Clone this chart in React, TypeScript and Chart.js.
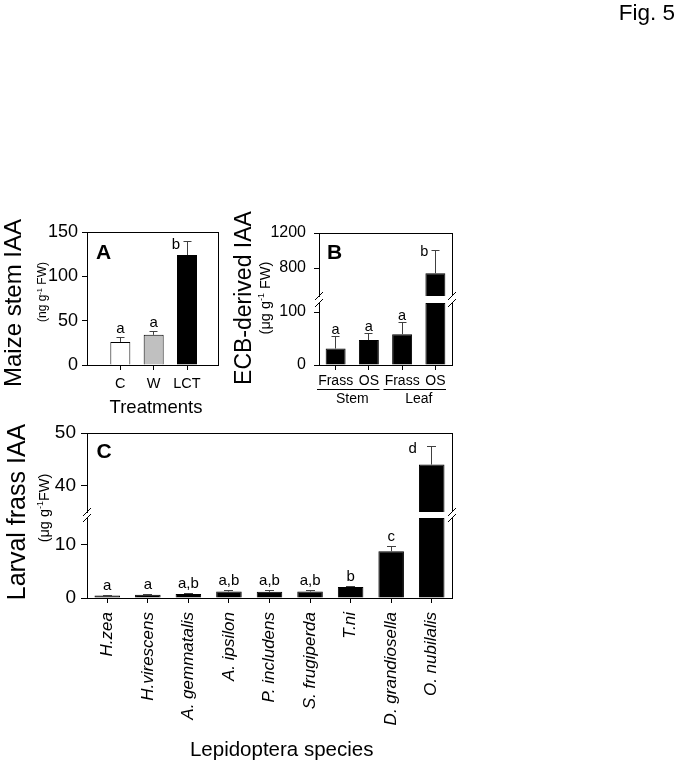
import React, { useEffect, useRef } from 'react';
import { Chart, registerables } from 'chart.js';

Chart.register(...registerables);

const FONT = "'Liberation Sans', Arial, Helvetica, sans-serif";
const W = 683;
const H = 767;
Chart.defaults.font.family = FONT;

// ---------- Panel A : maize stem IAA (ng g-1 FW)
const treatments = ['C', 'W', 'LCT'];
const stemIAA = [26, 34, 124];
const stemIAAErr = [5, 4, 15];
const stemLetters = ['a', 'a', 'b'];
const stemLetterSide = ['top', 'top', 'left'];
const stemTicks = [0, 50, 100, 150];
const stemRange = [0, 150];
const treatmentColors = ['#ffffff', '#c0c0c0', '#000000'];

// ---------- Panel B : ECB-derived IAA (ug g-1 FW), broken axis
const ecbLabels = ['Frass', 'OS', 'Frass', 'OS'];
const ecbTissues = ['Stem', 'Leaf'];
const ecbTissueSpan = [[0, 1], [2, 3]];
const ecbIAA = [31, 47, 58, 740];
const ecbIAAErr = [22, 13, 22, 262];
const ecbLetters = ['a', 'a', 'a', 'b'];
const ecbLetterSide = ['top', 'top', 'top', 'left'];
const ecbLowTicks = [0, 100];
const ecbHighTicks = [800, 1200];
const ecbLowRange = [0, 117];
const ecbHighRange = [480, 1200];

// ---------- Panel C : larval frass IAA (ug g-1 FW), broken axis
const species = [
  'H.zea',
  'H.virescens',
  'A. gemmatalis',
  'A. ipsilon',
  'P. includens',
  'S. frugiperda',
  'T.ni',
  'D. grandiosella',
  'O. nubilalis',
];
const frassIAA = [0.45, 0.62, 0.75, 1.2, 1.15, 1.2, 2.08, 8.75, 44];
const frassIAAErr = [0.1, 0.1, 0.12, 0.12, 0.3, 0.2, 0.12, 0.9, 3.5];
const frassLetters = ['a', 'a', 'a,b', 'a,b', 'a,b', 'a,b', 'b', 'c', 'd'];
const frassLetterSide = ['top', 'top', 'top', 'top', 'top', 'top', 'top', 'top', 'left'];
const frassLowTicks = [0, 10];
const frassHighTicks = [40, 50];
const frassLowRange = [0, 15];
const frassHighRange = [35, 50];

const panelA = {
  labels: treatments, values: stemIAA, errors: stemIAAErr, letters: stemLetters, sides: stemLetterSide,
  colors: treatmentColors, lowRange: stemRange, lowTicks: stemTicks,
  linearX: true, xMax: 3.93,
  area: { left: 87, top: 232, right: 218, bottom: 365 },
  yFont: 18, yPad: 4, yTickLen: 5, xFont: 14.5, xPad: 5, xRot: 0, barPct: 0.6,
  capHalf: 4, sigFont: 15, sigGap: 4.5, sigLeftDx: -7, sigLeftDy: 7.5,
  panel: 'A', panelFont: 21, panelDx: 9, panelDy: 27,
};

const panelB = {
  labels: ecbLabels, values: ecbIAA, errors: ecbIAAErr, letters: ecbLetters, sides: ecbLetterSide,
  colors: '#000000', lowRange: ecbLowRange, lowTicks: ecbLowTicks, highRange: ecbHighRange, highTicks: ecbHighTicks,
  stackPx: [63, 7, 62],
  area: { left: 319, top: 233, right: 452, bottom: 365 },
  yFont: 16, yPad: 8, yTickLen: 5, xFont: 14, xPad: 3, xRot: 0, barPct: 0.6,
  capHalf: 4, sigFont: 14.5, sigGap: 3, sigLeftDx: -7, sigLeftDy: 5,
  panel: 'B', panelFont: 21, panelDx: 8, panelDy: 26,
  groups: ecbTissues, groupSpan: ecbTissueSpan, groupFont: 14, groupLineDy: 24.5, groupTextDy: 38.3,
};

const panelC = {
  labels: species, values: frassIAA, errors: frassIAAErr, letters: frassLetters, sides: frassLetterSide,
  colors: '#000000', lowRange: frassLowRange, lowTicks: frassLowTicks, highRange: frassHighRange, highTicks: frassHighTicks,
  stackPx: [79, 6, 80],
  area: { left: 87, top: 433, right: 452, bottom: 598 },
  yFont: 19, yPad: 5, yTickLen: 6, xFont: 17, xItalic: true, xPad: 9, xRot: 90, barPct: 0.63,
  capHalf: 4.5, sigFont: 15, sigGap: 6, sigLeftDx: -15, sigLeftDy: 6.5,
  panel: 'C', panelFont: 21, panelDx: 9.5, panelDy: 25,
};

const al = (v: number) => Math.round(v - 0.5) + 0.5;

function makeChart(canvas: HTMLCanvasElement, p: any) {
  const broken = !!p.highRange;
  const lowMax = p.lowRange[1];
  const n = p.labels.length;
  const pt = (v: any, i: number) => (p.linearX ? (v === null ? null : { x: i + 1, y: v }) : v);
  const barStyle = {
    backgroundColor: p.colors, borderColor: '#000000', borderWidth: 1, grouped: false,
    categoryPercentage: 1, barPercentage: p.barPct,
  };
  const datasets: any[] = [
    { ...barStyle, yAxisID: 'y', data: p.values.map((v: number, i: number) => pt(broken ? Math.min(v, lowMax) : v, i)) },
  ];
  if (broken) {
    datasets.push({
      ...barStyle, yAxisID: 'yHigh',
      data: p.values.map((v: number, i: number) => pt(v > p.highRange[0] ? [p.highRange[0], v] : null, i)),
    });
  }

  const yAxis = (range: number[], ticks: number[], weight: number, stackWeight?: number) => ({
    type: 'linear', position: 'left', min: range[0], max: range[1], weight,
    ...(broken ? { stack: 'brk', stackWeight } : {}),
    afterBuildTicks: (s: any) => { s.ticks = ticks.map((v) => ({ value: v })); },
    afterFit: (s: any) => { s.width = p.area.left; },
    ticks: { color: '#000', font: { family: FONT, size: p.yFont }, padding: p.yPad, callback: (v: any) => String(v) },
    grid: { display: true, drawOnChartArea: false, drawTicks: true, tickLength: p.yTickLen, color: '#000', lineWidth: 1 },
    border: { display: true, color: '#000', width: 1 },
  });

  const scales: any = {};
  scales.y = yAxis(p.lowRange, p.lowTicks, 0, broken ? p.stackPx[2] : undefined);
  if (broken) {
    scales.yGap = {
      type: 'linear', position: 'left', stack: 'brk', stackWeight: p.stackPx[1], weight: 1,
      ticks: { display: false }, grid: { display: false }, border: { display: false },
      afterFit: (s: any) => { s.width = p.area.left; },
    };
    scales.yHigh = yAxis(p.highRange, p.highTicks, 2, p.stackPx[0]);
  }
  const xTicks = {
    color: '#000', font: { family: FONT, size: p.xFont, style: p.xItalic ? 'italic' : 'normal' },
    padding: p.xPad, autoSkip: false, minRotation: p.xRot, maxRotation: p.xRot,
  };
  const xCommon = {
    position: 'bottom',
    afterFit: (s: any) => { s.height = H - p.area.bottom; },
    grid: { display: true, offset: false, drawOnChartArea: false, drawTicks: true, tickLength: 5, color: '#000' },
    border: { display: true, color: '#000', width: 1 },
  };
  scales.x = p.linearX
    ? {
        ...xCommon, type: 'linear', min: 0, max: p.xMax, offset: false,
        afterBuildTicks: (s: any) => { s.ticks = p.labels.map((_: string, i: number) => ({ value: i + 1 })); },
        ticks: { ...xTicks, callback: (v: any) => p.labels[Math.round(Number(v)) - 1] ?? '' },
      }
    : { ...xCommon, type: 'category', offset: true, ticks: xTicks };

  const deco = {
    id: 'deco',
    afterDraw(chart: any) {
      const { ctx, chartArea: ca } = chart;
      const L = al(ca.left), R = al(ca.right), T = al(ca.top), B = al(ca.bottom);
      const gap = chart.scales.yGap;
      ctx.save();
      ctx.strokeStyle = '#000';
      ctx.lineWidth = 1;
      ctx.beginPath();
      ctx.moveTo(L, T); ctx.lineTo(R + 0.5, T);
      if (gap) {
        ctx.moveTo(R, T); ctx.lineTo(R, gap.top);
        ctx.moveTo(R, gap.bottom); ctx.lineTo(R, B);
      } else {
        ctx.moveTo(R, T); ctx.lineTo(R, B);
      }
      ctx.stroke();
      if (gap) {
        ctx.beginPath();
        for (const x of [ca.left, ca.right]) {
          for (const y of [gap.top, gap.bottom]) {
            ctx.moveTo(x - 4, y + 4);
            ctx.lineTo(x + 4, y - 4);
          }
        }
        ctx.stroke();
      }

      const meta = chart.getDatasetMeta(0);
      p.values.forEach((v: number, i: number) => {
        const el = meta.data[i];
        if (!el) return;
        const x = al(el.x);
        const sc = gap && v > lowMax ? chart.scales.yHigh : chart.scales.y;
        const y0 = sc.getPixelForValue(v);
        const y1 = al(sc.getPixelForValue(v + p.errors[i]));
        ctx.strokeStyle = '#404040';
        ctx.beginPath();
        ctx.moveTo(x, y0); ctx.lineTo(x, y1);
        ctx.moveTo(x - p.capHalf, y1); ctx.lineTo(x + p.capHalf, y1);
        ctx.stroke();
        ctx.fillStyle = '#000';
        ctx.font = `${p.sigFont}px ${FONT}`;
        ctx.textBaseline = 'alphabetic';
        if (p.sides[i] === 'left') {
          ctx.textAlign = 'right';
          ctx.fillText(p.letters[i], el.x + p.sigLeftDx, y1 + p.sigLeftDy);
        } else {
          ctx.textAlign = 'center';
          ctx.fillText(p.letters[i], el.x, y1 - p.sigGap);
        }
      });

      if (p.groups) {
        const cw = (ca.right - ca.left) / n;
        ctx.strokeStyle = '#000';
        ctx.fillStyle = '#000';
        ctx.font = `${p.groupFont}px ${FONT}`;
        ctx.textAlign = 'center';
        ctx.textBaseline = 'alphabetic';
        p.groups.forEach((g: string, gi: number) => {
          const [a, b] = p.groupSpan[gi];
          const xa = meta.data[a].x;
          const xb = meta.data[b].x;
          const y = al(ca.bottom + p.groupLineDy);
          ctx.beginPath();
          ctx.moveTo(xa - cw * 0.5 - 2, y);
          ctx.lineTo(xb + cw * 0.5 - 6, y);
          ctx.stroke();
          ctx.fillText(g, (xa + xb) / 2, ca.bottom + p.groupTextDy);
        });
      }

      ctx.fillStyle = '#000';
      ctx.font = `bold ${p.panelFont}px ${FONT}`;
      ctx.textAlign = 'left';
      ctx.textBaseline = 'alphabetic';
      ctx.fillText(p.panel, ca.left + p.panelDx, ca.top + p.panelDy);
      ctx.restore();
    },
  };

  return new Chart(canvas, {
    type: 'bar',
    data: { labels: p.labels, datasets },
    options: {
      responsive: false,
      maintainAspectRatio: false,
      animation: false,
      devicePixelRatio: 1,
      layout: { padding: { left: 0, top: p.area.top, right: W - p.area.right, bottom: 0 } },
      plugins: { legend: { display: false }, tooltip: { enabled: false }, title: { display: false } },
      scales,
    } as any,
    plugins: [deco],
  });
}

const Sup = () => (
  <sup style={{ fontSize: '0.62em', verticalAlign: '0.6em', lineHeight: 0 }}>-1</sup>
);

const Rot = ({ cx, cy, size, children }: any) => (
  <div
    style={{
      position: 'absolute', left: cx, top: cy, transform: 'translate(-50%, -50%) rotate(-90deg)',
      whiteSpace: 'pre', fontSize: size, lineHeight: 1, fontFamily: FONT, color: '#000',
    }}
  >
    {children}
  </div>
);

const Txt = ({ cx, cy, size, children, right }: any) => (
  <div
    style={{
      position: 'absolute', left: cx, top: cy,
      transform: right ? 'translate(-100%, -50%)' : 'translate(-50%, -50%)',
      whiteSpace: 'pre', fontSize: size, lineHeight: 1, fontFamily: FONT, color: '#000',
    }}
  >
    {children}
  </div>
);

export default function App() {
  const refA = useRef<HTMLCanvasElement>(null);
  const refB = useRef<HTMLCanvasElement>(null);
  const refC = useRef<HTMLCanvasElement>(null);

  useEffect(() => {
    const charts = [
      makeChart(refA.current as HTMLCanvasElement, panelA),
      makeChart(refB.current as HTMLCanvasElement, panelB),
      makeChart(refC.current as HTMLCanvasElement, panelC),
    ];
    return () => charts.forEach((c) => c.destroy());
  }, []);

  const cv = { position: 'absolute' as const, left: 0, top: 0, width: W, height: H };

  return (
    <div style={{ position: 'absolute', left: 0, top: 0, width: W, height: H, background: '#fff', overflow: 'hidden' }}>
      <canvas ref={refA} width={W} height={H} style={cv} />
      <canvas ref={refB} width={W} height={H} style={cv} />
      <canvas ref={refC} width={W} height={H} style={cv} />

      <Txt cx={675} cy={12.5} size={22.5} right>Fig. 5</Txt>

      <Rot cx={12.5} cy={303} size={24}>Maize stem IAA</Rot>
      <Rot cx={42} cy={292} size={12}>(ng g<Sup /> FW)</Rot>
      <Txt cx={156} cy={406.5} size={18.5}>Treatments</Txt>

      <Rot cx={242.5} cy={298} size={23}>ECB-derived IAA</Rot>
      <Rot cx={265} cy={298} size={14.5}>(μg g<Sup /> FW)</Rot>

      <Rot cx={16} cy={511.5} size={25}>Larval frass IAA</Rot>
      <Rot cx={43.5} cy={508} size={14.5}>(μg g<Sup />FW)</Rot>
      <Txt cx={281.7} cy={749} size={20.5}>Lepidoptera species</Txt>
    </div>
  );
}
